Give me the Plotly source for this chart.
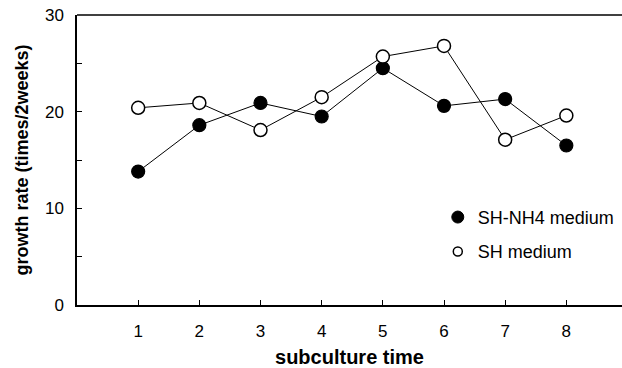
import plotly.graph_objects as go

subculture = [1, 2, 3, 4, 5, 6, 7, 8]
sh_nh4 = [13.8, 18.6, 20.9, 19.5, 24.5, 20.6, 21.3, 16.5]
sh = [20.4, 20.9, 18.1, 21.5, 25.7, 26.8, 17.1, 19.6]
y_tickvals = [0, 5, 10, 15, 20, 25, 30]
y_ticktext = ["0", "", "10", "", "20", "", "30"]
x_tickvals = [1, 2, 3, 4, 5, 6, 7, 8]

FONT = "Liberation Sans, Arial, Helvetica, sans-serif"

fig = go.Figure()
fig.add_trace(go.Scatter(
    x=subculture, y=sh_nh4, mode="lines+markers", showlegend=False,
    line=dict(color="black", width=1),
    marker=dict(size=13, color="black", line=dict(color="black", width=1.2)),
))
fig.add_trace(go.Scatter(
    x=subculture, y=sh, mode="lines+markers", showlegend=False,
    line=dict(color="black", width=1),
    marker=dict(size=13, color="white", line=dict(color="black", width=1.5)),
))
# legend entries (marker only)
fig.add_trace(go.Scatter(
    x=[None], y=[None], mode="markers", name="SH-NH4 medium", legendgroup="a",
    marker=dict(size=12, color="black", line=dict(color="black", width=1)),
))
fig.add_trace(go.Scatter(
    x=[None], y=[None], mode="markers", name="SH medium", legendgroup="b",
    marker=dict(size=9, color="white", line=dict(color="black", width=1.5)),
))

fig.add_shape(type="line", xref="paper", yref="paper", x0=0, x1=1, y0=1, y1=1,
              line=dict(color="black", width=1.5))

fig.update_layout(
    width=622, height=368,
    margin=dict(l=77, r=0, t=15, b=63),
    paper_bgcolor="white", plot_bgcolor="white",
    font=dict(family=FONT, size=17, color="black"),
    xaxis=dict(
        range=[0, 8.91], tickvals=x_tickvals, ticks="inside", ticklen=5,
        tickcolor="black", showline=True, linecolor="black", linewidth=1.5,
        showgrid=False, zeroline=False, tickfont=dict(size=17), automargin=False,
        ticklabelstandoff=10,
        title=dict(text="<b>subculture time</b>", font=dict(size=20), standoff=14),
    ),
    yaxis=dict(
        range=[0, 30], tickvals=y_tickvals, ticktext=y_ticktext, ticks="inside",
        ticklen=5, tickcolor="black", showline=True, linecolor="black", linewidth=1.5,
        showgrid=False, zeroline=False, tickfont=dict(size=17), automargin=False,
        ticklabelstandoff=8,
        title=dict(text="<b>growth rate (times/2weeks)</b>", font=dict(size=18), standoff=12),
    ),
    legend=dict(x=0.662, y=0.366, xanchor="left", yanchor="top",
                bgcolor="rgba(0,0,0,0)", font=dict(size=18),
                tracegroupgap=8, itemwidth=30),
)

fig.write_html(
    "out.html",
    config={"responsive": False, "displayModeBar": False},
    post_script="document.body.style.margin='0';document.body.style.overflow='hidden';",
)
